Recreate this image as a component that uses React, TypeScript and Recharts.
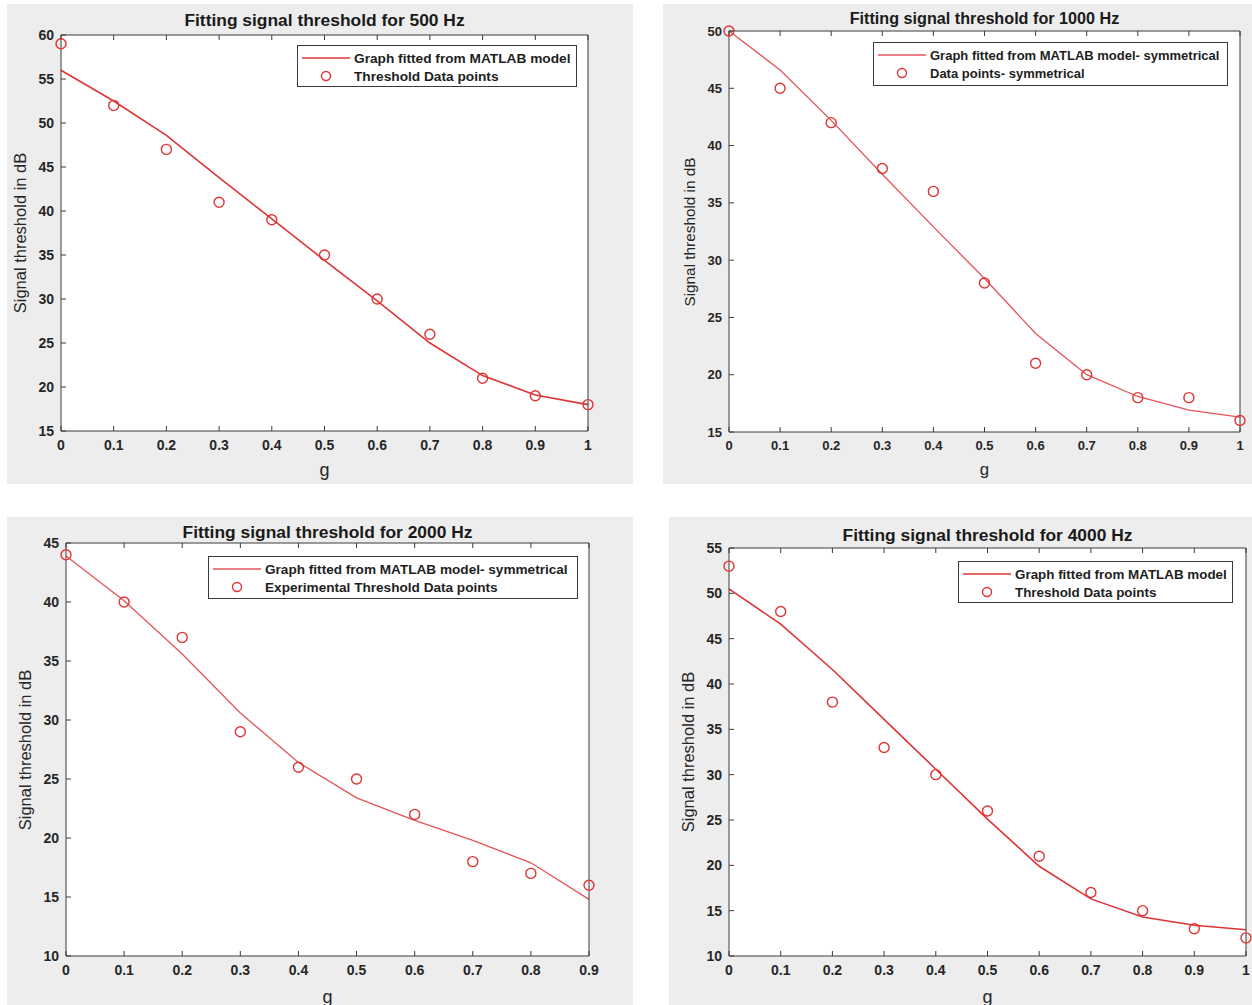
import React from "react";
import { LineChart, Line, XAxis, YAxis, CartesianGrid } from "recharts";

// g values
const gFull = [0, 0.1, 0.2, 0.3, 0.4, 0.5, 0.6, 0.7, 0.8, 0.9, 1];
const gShort = [0, 0.1, 0.2, 0.3, 0.4, 0.5, 0.6, 0.7, 0.8, 0.9];

// 500 Hz
const points500 = [59, 52, 47, 41, 39, 35, 30, 26, 21, 19, 18];
const fit500 = [56, 52.5, 48.6, 43.8, 39.1, 34.4, 29.8, 25.0, 21.3, 19.1, 18.0];
const yTicks500 = [15, 20, 25, 30, 35, 40, 45, 50, 55, 60];

// 1000 Hz
const points1000 = [50, 45, 42, 38, 36, 28, 21, 20, 18, 18, 16];
const fit1000 = [50, 46.6, 42.2, 37.5, 32.9, 28.4, 23.6, 20.0, 18.1, 16.9, 16.3];
const yTicks1000 = [15, 20, 25, 30, 35, 40, 45, 50];

// 2000 Hz
const points2000 = [44, 40, 37, 29, 26, 25, 22, 18, 17, 16];
const fit2000 = [43.9, 40.1, 35.6, 30.6, 26.4, 23.4, 21.5, 19.8, 17.9, 14.8];
const yTicks2000 = [10, 15, 20, 25, 30, 35, 40, 45];

// 4000 Hz
const points4000 = [53, 48, 38, 33, 30, 26, 21, 17, 15, 13, 12];
const fit4000 = [50.5, 46.6, 41.6, 36.1, 30.6, 25.1, 19.9, 16.3, 14.3, 13.4, 12.9];
const yTicks4000 = [10, 15, 20, 25, 30, 35, 40, 45, 50, 55];

const RED = "#e03434";
const AXIS = "#3a3a3a";
const TEXT = "#262626";
const FONT = "'Liberation Sans', Arial, sans-serif";
const XH = 30;
const YW = 40;

type Box = { x: number; y: number; w: number; h: number };

interface PanelProps {
  bg: Box;
  plot: { l: number; t: number; r: number; b: number };
  g: number[];
  points: number[];
  fit: number[];
  yTicks: number[];
  title: string;
  titleY: number;
  yLabelX: number;
  gLabelY: number;
  legend: Box;
  legendFont: number;
  fitLabel: string;
  pointLabel: string;
  fitColor: string;
  fitWidth: number;
  s: number;
}

function Panel(p: PanelProps) {
  const data = p.g.map((v, i) => ({ g: v, points: p.points[i], fit: p.fit[i] }));
  const xDomain = [p.g[0], p.g[p.g.length - 1]];
  const yDomain = [p.yTicks[0], p.yTicks[p.yTicks.length - 1]];
  const margin = {
    left: p.plot.l - p.bg.x - YW,
    top: p.plot.t - p.bg.y - 1,
    right: p.bg.x + p.bg.w - p.plot.r - 1,
    bottom: p.bg.y + p.bg.h - p.plot.b - XH,
  };
  const tickStyle = { fill: TEXT, fontSize: 14 * p.s, fontFamily: FONT, fontWeight: "bold" };
  const cx = (p.plot.l + p.plot.r) / 2;
  const cy = (p.plot.t + p.plot.b) / 2;
  return (
    <>
      <div
        style={{
          position: "absolute",
          left: p.bg.x,
          top: p.bg.y,
          width: p.bg.w,
          height: p.bg.h,
          background: "#ededed",
        }}
      >
        <LineChart width={p.bg.w} height={p.bg.h} data={data} margin={margin}>
          <CartesianGrid fill="#ffffff" horizontal={false} vertical={false} />
          <XAxis
            dataKey="g"
            type="number"
            domain={xDomain}
            ticks={p.g}
            interval={0}
            height={XH}
            tickSize={-5}
            tickMargin={14}
            tick={tickStyle}
            axisLine={{ stroke: AXIS }}
            tickLine={{ stroke: AXIS }}
          />
          <XAxis
            xAxisId="top"
            orientation="top"
            dataKey="g"
            type="number"
            domain={xDomain}
            ticks={p.g}
            interval={0}
            height={1}
            tickSize={-5}
            tickFormatter={() => ""}
            axisLine={{ stroke: AXIS }}
            tickLine={{ stroke: AXIS }}
          />
          <YAxis
            type="number"
            domain={yDomain}
            ticks={p.yTicks}
            interval={0}
            width={YW}
            tickSize={-5}
            tickMargin={12}
            tick={tickStyle}
            axisLine={{ stroke: AXIS }}
            tickLine={{ stroke: AXIS }}
          />
          <YAxis
            yAxisId="right"
            orientation="right"
            type="number"
            domain={yDomain}
            ticks={p.yTicks}
            interval={0}
            width={1}
            tickSize={-5}
            tickFormatter={() => ""}
            axisLine={{ stroke: AXIS }}
            tickLine={{ stroke: AXIS }}
          />
          <Line
            dataKey="fit"
            type="linear"
            stroke={p.fitColor}
            strokeWidth={p.fitWidth}
            dot={false}
            isAnimationActive={false}
          />
          <Line
            dataKey="points"
            type="linear"
            stroke="none"
            dot={{ r: 5, fill: "none", stroke: RED, strokeWidth: 1.4 }}
            isAnimationActive={false}
          />
        </LineChart>
      </div>
      <div
        style={{
          position: "absolute",
          left: cx,
          top: p.titleY,
          transform: "translate(-50%, -50%)",
          fontFamily: FONT,
          fontWeight: "bold",
          fontSize: 17.4 * p.s,
          color: "#1a1a1a",
          whiteSpace: "nowrap",
        }}
      >
        {p.title}
      </div>
      <div
        style={{
          position: "absolute",
          left: p.yLabelX,
          top: cy,
          transform: "translate(-50%, -50%) rotate(-90deg)",
          fontFamily: FONT,
          fontSize: 16.5 * p.s,
          color: TEXT,
          whiteSpace: "nowrap",
        }}
      >
        Signal threshold in dB
      </div>
      <div
        style={{
          position: "absolute",
          left: cx,
          top: p.gLabelY,
          transform: "translate(-50%, -50%)",
          fontFamily: FONT,
          fontSize: 18 * p.s,
          color: TEXT,
        }}
      >
        g
      </div>
      <div
        style={{
          position: "absolute",
          left: p.legend.x,
          top: p.legend.y,
          width: p.legend.w,
          height: p.legend.h,
          boxSizing: "border-box",
          border: `1px solid ${AXIS}`,
          background: "#fff",
          fontFamily: FONT,
          fontWeight: "bold",
          fontSize: p.legendFont,
          color: "#1e1e1e",
        }}
      >
        <div style={{ display: "flex", alignItems: "center", height: 18, marginTop: 3 }}>
          <svg width={56} height={18} style={{ flex: "none" }}>
            <line x1={4} x2={52} y1={9} y2={9} stroke={p.fitColor} strokeWidth={p.fitWidth} />
          </svg>
          <span style={{ whiteSpace: "nowrap" }}>{p.fitLabel}</span>
        </div>
        <div style={{ display: "flex", alignItems: "center", height: 18 }}>
          <svg width={56} height={18} style={{ flex: "none" }}>
            <circle cx={28} cy={9} r={4.5} fill="none" stroke={RED} strokeWidth={1.4} />
          </svg>
          <span style={{ whiteSpace: "nowrap" }}>{p.pointLabel}</span>
        </div>
      </div>
    </>
  );
}

export default function App() {
  return (
    <div
      style={{
        position: "absolute",
        left: 0,
        top: 0,
        width: 1252,
        height: 1005,
        background: "#fff",
        overflow: "hidden",
      }}
    >
      <Panel
        bg={{ x: 7, y: 4, w: 626, h: 480 }}
        plot={{ l: 61, t: 35, r: 588, b: 431 }}
        g={gFull}
        points={points500}
        fit={fit500}
        yTicks={yTicks500}
        title="Fitting signal threshold for 500 Hz"
        titleY={20}
        yLabelX={20}
        gLabelY={470}
        legend={{ x: 297, y: 45, w: 280, h: 42 }}
        legendFont={13.7}
        fitLabel="Graph fitted from MATLAB model"
        pointLabel="Threshold Data points"
        fitColor={RED}
        fitWidth={1.6}
        s={1}
      />
      <Panel
        bg={{ x: 663, y: 4, w: 589, h: 480 }}
        plot={{ l: 729, t: 31, r: 1240, b: 432 }}
        g={gFull}
        points={points1000}
        fit={fit1000}
        yTicks={yTicks1000}
        title="Fitting signal threshold for 1000 Hz"
        titleY={18}
        yLabelX={690}
        gLabelY={470}
        legend={{ x: 873, y: 42, w: 355, h: 44 }}
        legendFont={13}
        fitLabel="Graph fitted from MATLAB model- symmetrical"
        pointLabel="Data points- symmetrical"
        fitColor="#e55458"
        fitWidth={1.3}
        s={0.93}
      />
      <Panel
        bg={{ x: 7, y: 517, w: 626, h: 488 }}
        plot={{ l: 66, t: 543, r: 589, b: 956 }}
        g={gShort}
        points={points2000}
        fit={fit2000}
        yTicks={yTicks2000}
        title="Fitting signal threshold for 2000 Hz"
        titleY={532}
        yLabelX={25}
        gLabelY={997}
        legend={{ x: 208, y: 556, w: 370, h: 43 }}
        legendFont={13.6}
        fitLabel="Graph fitted from MATLAB model- symmetrical"
        pointLabel="Experimental Threshold Data points"
        fitColor="#e55458"
        fitWidth={1.3}
        s={1}
      />
      <Panel
        bg={{ x: 669, y: 517, w: 583, h: 488 }}
        plot={{ l: 729, t: 548, r: 1246, b: 956 }}
        g={gFull}
        points={points4000}
        fit={fit4000}
        yTicks={yTicks4000}
        title="Fitting signal threshold for 4000 Hz"
        titleY={535}
        yLabelX={688}
        gLabelY={997}
        legend={{ x: 958, y: 561, w: 275, h: 42 }}
        legendFont={13.4}
        fitLabel="Graph fitted from MATLAB model"
        pointLabel="Threshold Data points"
        fitColor={RED}
        fitWidth={1.6}
        s={1}
      />
    </div>
  );
}
